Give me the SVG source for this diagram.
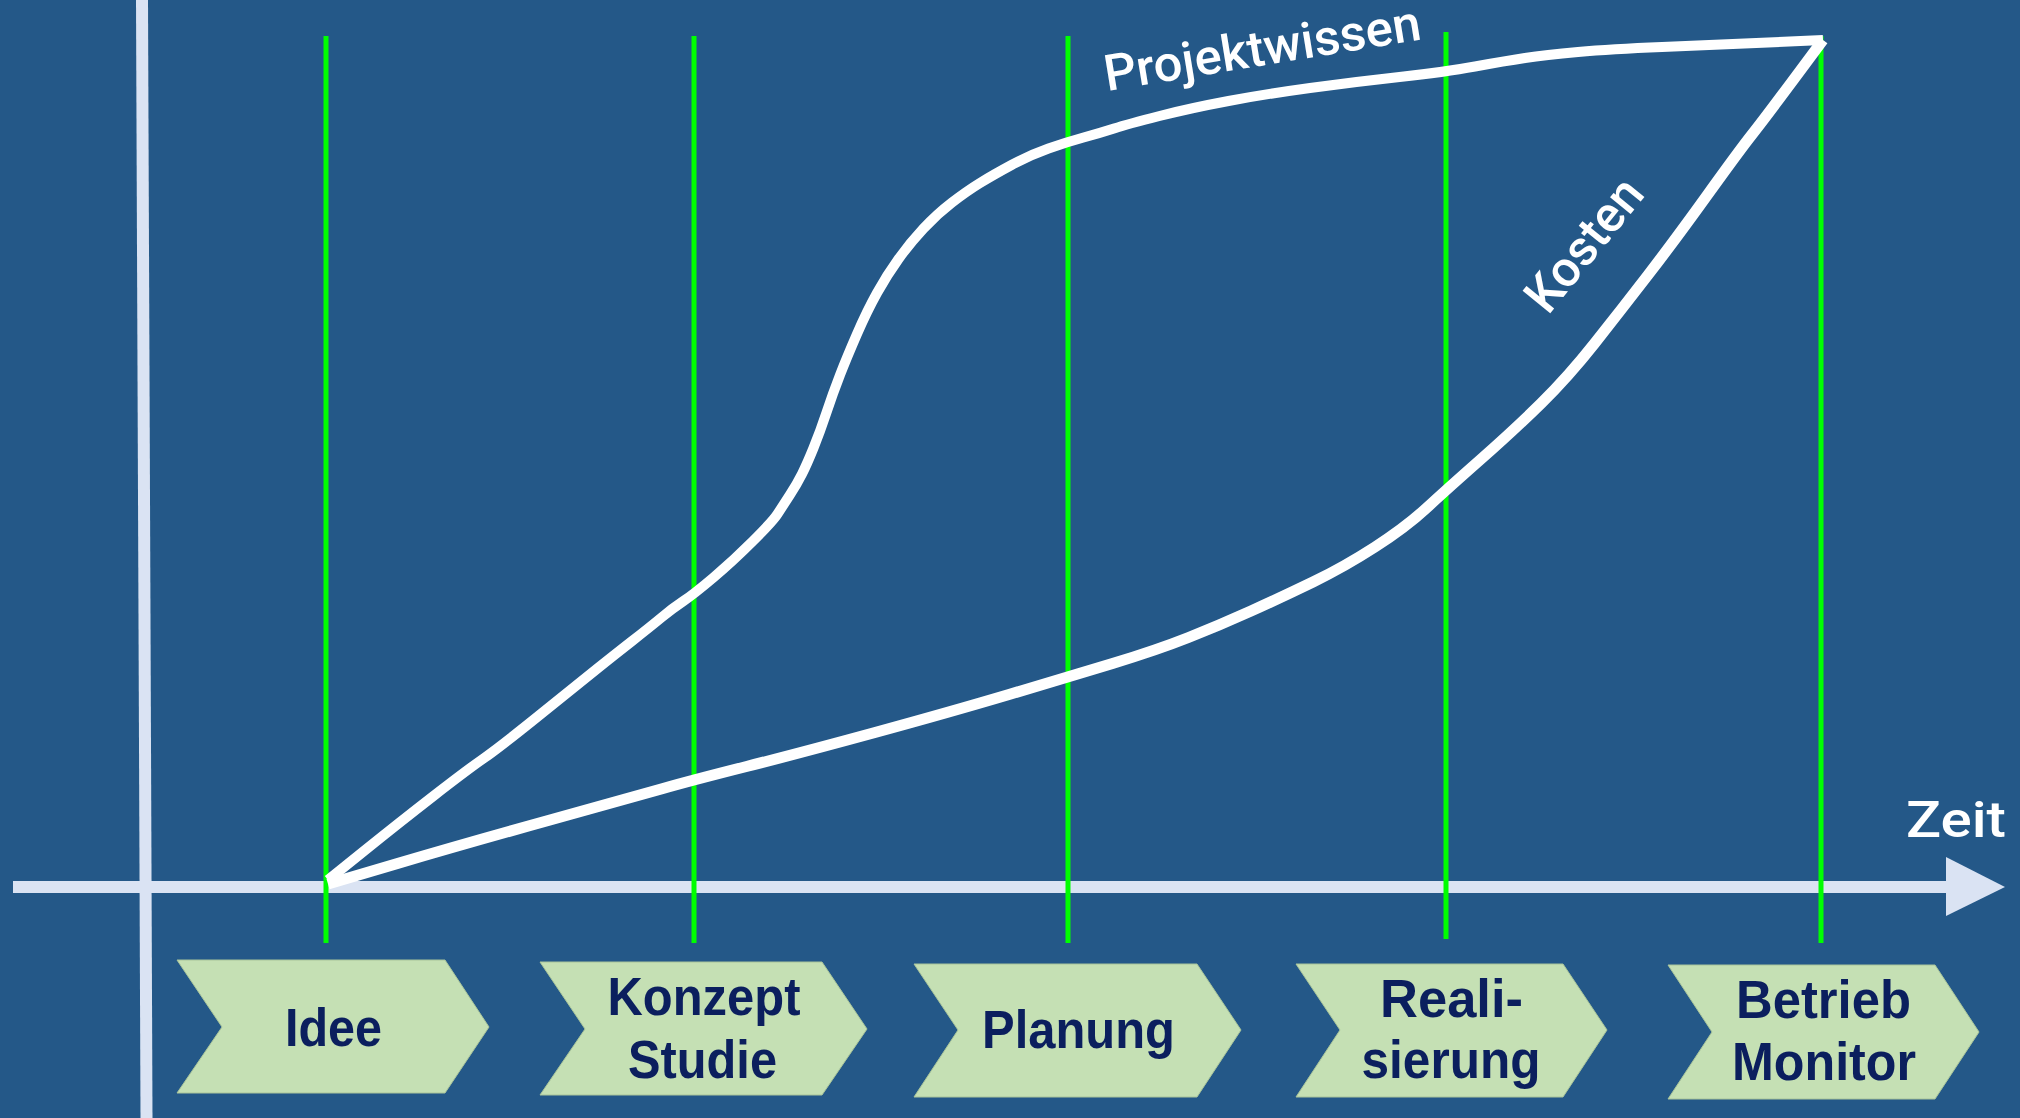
<svg xmlns="http://www.w3.org/2000/svg" width="2020" height="1118" viewBox="0 0 2020 1118">
  <style>
    .axis { stroke: #dae3f3; stroke-width: 12; fill: none; }
    .phase-line { stroke: #00ff00; stroke-width: 5; }
    .curve { stroke: #ffffff; fill: none; stroke-linejoin: miter; stroke-linecap: butt; }
    .chev { fill: #c5e0b4; stroke: #a9c49a; stroke-width: 1; }
    .chev-text { font-family: "Liberation Sans", Arial, sans-serif; font-weight: bold; font-size: 53px; fill: #0b1f5e; text-anchor: middle; }
    .label { font-family: Roboto, "Liberation Sans", Arial, sans-serif; font-weight: 500; font-size: 50px; fill: #ffffff; }
  </style>
  <rect x="0" y="0" width="2020" height="1118" fill="#245888"/>

  <g id="axes">
    <line class="axis" x1="142" y1="0" x2="146.5" y2="1118"/>
    <line class="axis" x1="13" y1="887" x2="1950" y2="887"/>
    <polygon points="1946,857 2005,887 1946,916" fill="#dae3f3"/>
    <text class="label" x="1906" y="837" font-size="62" textLength="100" lengthAdjust="spacingAndGlyphs">Zeit</text>
  </g>

  <g id="phase-lines">
    <line class="phase-line" x1="326" y1="36" x2="326" y2="943"/>
    <line class="phase-line" x1="694" y1="36" x2="694" y2="943"/>
    <line class="phase-line" x1="1068" y1="36" x2="1068" y2="943"/>
    <line class="phase-line" x1="1446" y1="32" x2="1446" y2="939"/>
    <line class="phase-line" x1="1821" y1="36" x2="1821" y2="943"/>
  </g>

  <g id="connectors">
    <path id="projektwissen-curve" class="curve" stroke-width="10" d="M328,880 L364,851 Q400,822 433.5,796 Q467,770 483.5,758.5 Q500,747 541.5,713.5 Q583,680 598,668 Q613,656 631.5,641.5 Q650,627 661.5,617.5 Q673,608 683.5,601 Q694,594 713.5,577.5 Q733,561 753,541 Q773,521 777.5,514 Q782,507 789.5,495.5 Q797,484 802,474 Q807,464 813.5,448 Q820,432 826.5,412.5 Q833,393 840,375 Q847,357 857,334 Q867,311 877,293 Q887,275 898.5,259 Q910,243 923.5,228.5 Q937,214 952,202.5 Q967,191 980,183 Q993,175 1011.5,165 Q1030,155 1048.5,148.5 Q1067,142 1083.5,137.5 Q1100,133 1114,128.5 Q1128,124 1159.5,116 Q1191,108 1228.5,101 Q1266,94 1310,88 Q1354,82 1399.5,77 Q1445,72 1475,66.5 Q1505,61 1525,58 Q1545,55 1578,52 Q1611,49 1662,47 Q1713,45 1768,42.5 L1823,40"/>
    <path id="kosten-curve" class="curve" stroke-width="11" d="M328,884 L397.5,863.5 Q467,843 550,820 Q633,797 663,788.5 Q693,780 746.5,766.5 Q800,753 875,732.5 Q950,712 1009,694.5 Q1068,677 1112.5,663.5 Q1157,650 1188.5,637.5 Q1220,625 1251,611 Q1282,597 1313,582 Q1344,567 1375,547 Q1406,527 1426,508.5 Q1446,490 1480,460 Q1514,430 1541,403.5 Q1568,377 1594.5,343.5 Q1621,310 1648,275 Q1675,240 1707,195.5 Q1739,151 1752,134.5 Q1765,118 1794,79 L1823,40"/>
    <text class="label" transform="translate(1107,91) rotate(-9.3)" textLength="320" lengthAdjust="spacingAndGlyphs">Projektwissen</text>
    <text class="label" transform="translate(1548,316) rotate(-51)" textLength="156" lengthAdjust="spacingAndGlyphs">Kosten</text>
  </g>

  <g id="phase-idee">
    <polygon class="chev" points="177,960 445,960 489,1027 445,1093 177,1093 222,1027"/>
    <text class="chev-text" x="333.5" y="1046" textLength="97" lengthAdjust="spacingAndGlyphs">Idee</text>
  </g>
  <g id="phase-konzept">
    <polygon class="chev" points="540,962 822,962 867,1029 822,1095 540,1095 585,1029"/>
    <text class="chev-text" x="704" y="1015" textLength="193" lengthAdjust="spacingAndGlyphs">Konzept</text>
    <text class="chev-text" x="702.5" y="1078" textLength="149" lengthAdjust="spacingAndGlyphs">Studie</text>
  </g>
  <g id="phase-planung">
    <polygon class="chev" points="914,964 1197,964 1241,1030 1197,1097 914,1097 958,1030"/>
    <text class="chev-text" x="1078.5" y="1048" textLength="193" lengthAdjust="spacingAndGlyphs">Planung</text>
  </g>
  <g id="phase-realisierung">
    <polygon class="chev" points="1296,964 1563,964 1607,1030 1563,1097 1296,1097 1340,1030"/>
    <text class="chev-text" x="1451.5" y="1017" textLength="143" lengthAdjust="spacingAndGlyphs">Reali-</text>
    <text class="chev-text" x="1451" y="1078" textLength="179" lengthAdjust="spacingAndGlyphs">sierung</text>
  </g>
  <g id="phase-betrieb">
    <polygon class="chev" points="1668,965 1935,965 1979,1032 1935,1099 1668,1099 1712,1032"/>
    <text class="chev-text" x="1823.5" y="1018" textLength="175" lengthAdjust="spacingAndGlyphs">Betrieb</text>
    <text class="chev-text" x="1824" y="1080" textLength="184" lengthAdjust="spacingAndGlyphs">Monitor</text>
  </g>
</svg>
